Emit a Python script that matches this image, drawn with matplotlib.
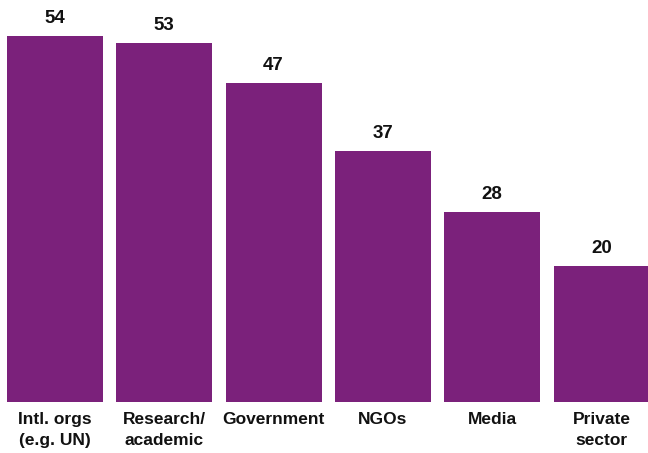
import matplotlib.pyplot as plt

categories = ['Intl. orgs\n(e.g. UN)', 'Research/\nacademic', 'Government',
              'NGOs', 'Media', 'Private\nsector']
values = [54, 53, 47, 37, 28, 20]

bar_color = '#7b217b'
plt.rcParams['font.family'] = ['Liberation Sans', 'DejaVu Sans']

fig = plt.figure(figsize=(6.48, 4.53), dpi=100)
ax = fig.add_axes([0, 51 / 453, 1, 402 / 453])

x = range(len(values))
bars = ax.bar(x, values, width=0.878, color=bar_color)
ax.set_xlim(-0.503, 5.425)
ax.set_ylim(0, 59.3)

for xi, v in zip(x, values):
    ax.annotate(str(v), (xi, v), xytext=(0, 6.5), textcoords='offset points',
                ha='center', va='bottom', fontsize=13.5, fontweight='bold',
                color='#111111')

ax.set_xticks(list(x))
ax.set_xticklabels(categories, fontsize=12.5, fontweight='bold',
                   color='#111111', linespacing=1.55, va='top')
ax.tick_params(axis='x', length=0, pad=7)
ax.set_yticks([])
for s in ax.spines.values():
    s.set_visible(False)

fig.savefig('out.png', dpi=100)
